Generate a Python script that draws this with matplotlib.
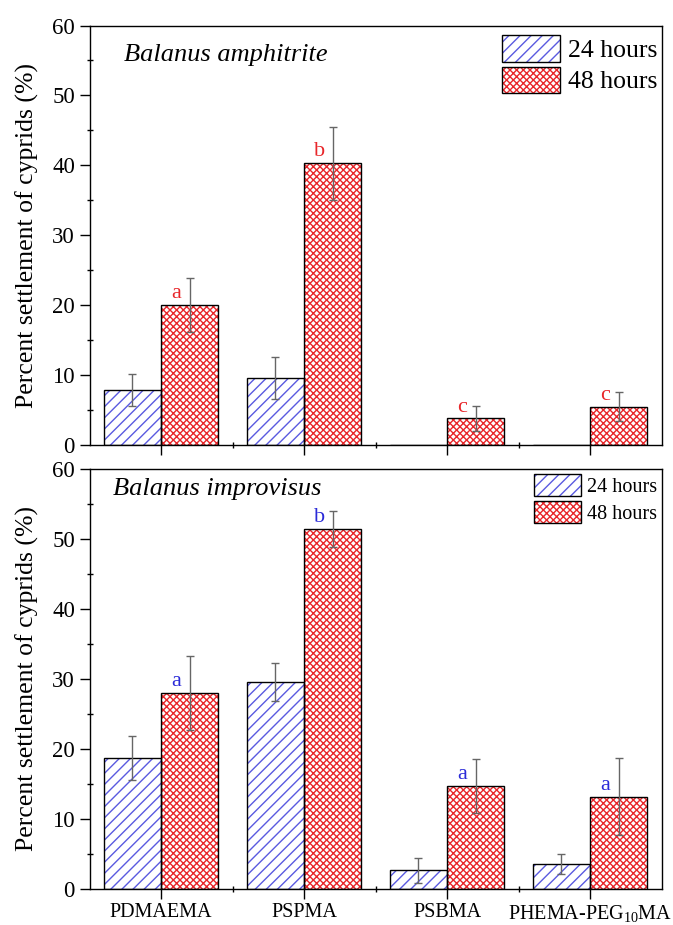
import matplotlib
matplotlib.use("Agg")
import matplotlib.pyplot as plt
import numpy as np
from matplotlib.patches import Patch
from matplotlib.ticker import MultipleLocator, FixedLocator

plt.rcParams['font.family'] = ['Liberation Serif', 'DejaVu Serif']
plt.rcParams['mathtext.fontset'] = 'custom'
plt.rcParams['mathtext.rm'] = 'Liberation Serif'
plt.rcParams['mathtext.it'] = 'Liberation Serif:italic'
plt.rcParams['hatch.linewidth'] = 1.0

# data
surfaces = ['PDMAEMA', 'PSPMA', 'PSBMA', 'PHEMA-PEG$_{10}$MA']
series = ['24 hours', '48 hours']

amph_24 = [7.9, 9.6, 0.0, 0.0]
amph_24_err = [2.3, 3.0, 0.0, 0.0]
amph_48 = [20.0, 40.3, 3.8, 5.5]
amph_48_err = [3.9, 5.2, 1.8, 2.1]
amph_letters = ['a', 'b', 'c', 'c']

impr_24 = [18.7, 29.6, 2.7, 3.6]
impr_24_err = [3.1, 2.7, 1.8, 1.4]
impr_48 = [28.0, 51.4, 14.7, 13.2]
impr_48_err = [5.3, 2.6, 3.9, 5.5]
impr_letters = ['a', 'b', 'a', 'a']

blue = '#5a5ae0'
red = '#e8262a'
err_col = '#666666'
width = 0.40

fig = plt.figure(figsize=(6.73, 9.25), dpi=100)
ax1 = fig.add_axes([0.133, 0.5189, 0.850, 0.4535])
ax2 = fig.add_axes([0.133, 0.0389, 0.850, 0.4541])

x = np.arange(1, len(surfaces) + 1)


def hatched_bars(ax, left, vals, hatch, col):
    ax.bar(left, vals, width, align='edge', color='white', edgecolor=col,
           hatch=hatch, linewidth=0, zorder=2)
    ax.bar(left, vals, width, align='edge', fill=False, edgecolor='black',
           linewidth=1.0, zorder=3)


def draw_panel(ax, v24, e24, v48, e48, letters, letter_col, title, title_pos,
               legend_fs, handle_len, handle_h, lab_sp, leg_anchor):
    hatched_bars(ax, x - width, v24, '///', blue)
    hatched_bars(ax, x, v48, 'xxxxx', red)
    for xi, v, e in zip(x - width / 2, v24, e24):
        if v > 0:
            ax.errorbar(xi, v, yerr=e, fmt='none', ecolor=err_col,
                        elinewidth=1.0, capsize=3, capthick=1.0, zorder=4)
    for xi, v, e in zip(x + width / 2, v48, e48):
        ax.errorbar(xi, v, yerr=e, fmt='none', ecolor=err_col,
                    elinewidth=1.0, capsize=3, capthick=1.0, zorder=4)
    for xi, v, t in zip(x + width / 2, v48, letters):
        ax.annotate(t, xy=(xi, v), xytext=(-9.5, 5), textcoords='offset points',
                    ha='center', va='baseline', color=letter_col, fontsize=16)

    ax.set_xlim(0.5, 4.5)
    ax.set_ylim(0, 60)
    ax.yaxis.set_major_locator(MultipleLocator(10))
    ax.yaxis.set_minor_locator(MultipleLocator(5))
    ax.xaxis.set_major_locator(FixedLocator(x))
    ax.xaxis.set_minor_locator(FixedLocator(x[:-1] + 0.5))
    ax.tick_params(which='major', direction='out', length=7, width=1.0,
                   pad=3.5, labelsize=16.5)
    ax.tick_params(which='minor', direction='inout', length=5, width=1.0)
    ax.tick_params(axis='x', which='major', labelsize=14.5, pad=3)
    for s in ax.spines.values():
        s.set_linewidth(1.0)
    ax.set_ylabel('Percent settlement of cyprids (%)', fontsize=18.5,
                  labelpad=9.5)
    ax.text(title_pos[0], title_pos[1], title, transform=ax.transAxes,
            fontsize=19, style='italic', ha='left', va='center')

    handles = [(Patch(facecolor='white', edgecolor=blue, hatch='///', linewidth=0),
                Patch(fill=False, edgecolor='black', linewidth=1.0)),
               (Patch(facecolor='white', edgecolor=red, hatch='xxxxx', linewidth=0),
                Patch(fill=False, edgecolor='black', linewidth=1.0))]
    ax.legend(handles, series, loc='upper right', bbox_to_anchor=leg_anchor,
              frameon=False, fontsize=legend_fs, handlelength=handle_len,
              handleheight=handle_h, labelspacing=lab_sp, handletextpad=0.3,
              borderpad=0, borderaxespad=0)


draw_panel(ax1, amph_24, amph_24_err, amph_48, amph_48_err, amph_letters,
           red, 'Balanus amphitrite', (0.060, 0.93),
           18.5, 2.26, 1.2, 0.18, (0.992, 0.977))
ax1.set_xticklabels([])

draw_panel(ax2, impr_24, impr_24_err, impr_48, impr_48_err, impr_letters,
           '#2a2ad8', 'Balanus improvisus', (0.041, 0.953),
           14.5, 2.3, 1.25, 0.22, (0.992, 0.987))
ax2.set_xticklabels(surfaces)

fig.savefig('out.png', dpi=100)
